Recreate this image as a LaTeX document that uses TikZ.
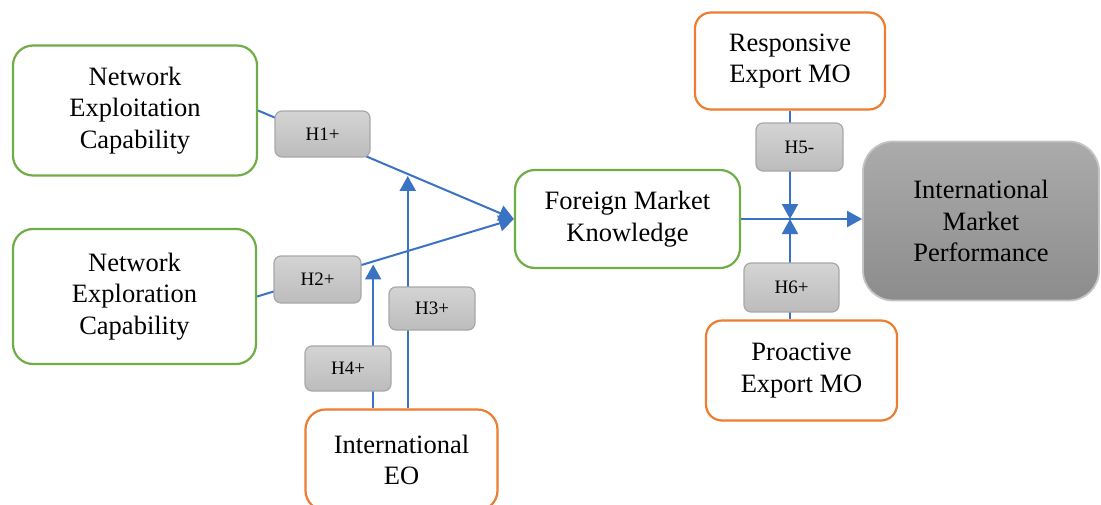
\documentclass[tikz,border=0pt]{standalone}
\usepackage{fontspec}
\setmainfont{Liberation Serif}
\usetikzlibrary{arrows.meta,calc}
\definecolor{grn}{HTML}{70AD47}
\definecolor{org}{HTML}{ED7D31}
\definecolor{lnk}{HTML}{3A72C4}
\definecolor{hlite}{HTML}{D4D4D4}
\definecolor{hdark}{HTML}{BCBCBC}
\definecolor{hedge}{HTML}{A8A8A8}
\definecolor{plite}{HTML}{ABABAB}
\definecolor{pdark}{HTML}{8C8C8C}
\definecolor{pedge}{HTML}{C4C4C4}
\begin{document}
\begin{tikzpicture}[x=1pt,y=-1pt,
  construct/.style={draw,line width=2.2pt,rounded corners=20pt,align=center,
    font=\fontsize{26.5}{31.5}\selectfont,inner sep=0pt},
  capab/.style={construct,draw=grn},
  orient/.style={construct,draw=org},
  outcome/.style={construct,draw=pedge,line width=1.8pt,rounded corners=30pt,
    top color=plite,bottom color=pdark},
  hyp/.style={draw=hedge,line width=1.2pt,rounded corners=7pt,top color=hlite,
    bottom color=hdark,inner sep=0pt,font=\fontsize{19}{22}\selectfont},
  link/.style={draw=lnk,line width=2pt},
  linkarr/.style={link,-{Triangle[length=15pt,width=16pt]}}]
\useasboundingbox (0,0) rectangle (1101,504);
\clip (0,0) rectangle (1101,504);

% constructs
\node[capab,minimum width=244pt,minimum height=130pt] (nec) at (135,110.5)
  {Network\\Exploitation\\Capability};
\node[capab,minimum width=243pt,minimum height=135pt] (nexp) at (134.5,296.5)
  {Network\\Exploration\\Capability};
\node[capab,minimum width=225pt,minimum height=98pt] (fmk) at (627.5,219)
  {Foreign Market\\Knowledge};
\node[orient,rounded corners=16pt,minimum width=190pt,minimum height=97pt] (rmo) at (790,61)
  {Responsive\\Export MO};
\node[orient,rounded corners=16pt,minimum width=191pt,minimum height=100pt] (pmo) at (801.5,370.5)
  {Proactive\\Export MO};
\node[orient,minimum width=192pt,minimum height=101pt] (eo) at (401.5,460)
  {International\\EO};
\node[outcome,minimum width=236pt,minimum height=159pt] (imp) at (981,221)
  {International\\Market\\Performance};

% connectors
\coordinate (h3tip) at ($(nec.east)!0.585!(fmk.west)$);
\coordinate (h4tip) at ($(nexp.east)!0.452!(fmk.west)$);
\coordinate (hub) at (rmo.south |- fmk.east);

\draw[linkarr] (nec.east) -- (fmk.west);
\draw[linkarr] (nexp.east) -- (fmk.west);
\draw[linkarr,shorten >=2pt] (eo.north -| h3tip) -- (h3tip);
\draw[linkarr,shorten >=3pt] (eo.north -| h4tip) -- (h4tip);
\draw[linkarr] (fmk.east) -- (fmk.east -| imp.west);
\draw[linkarr] (rmo.south) -- (hub);
\draw[linkarr] (pmo.north -| hub) -- (hub);

% hypothesis labels
\node[hyp,minimum width=95pt,minimum height=46pt] (h1) at (322.5,134) {H1+};
\node[hyp,minimum width=87pt,minimum height=47pt] (h2) at (317.5,279.5) {H2+};
\node[hyp,minimum width=86pt,minimum height=43pt] (h3) at (432,308.5) {H3+};
\node[hyp,minimum width=86pt,minimum height=45pt] (h4) at (348,368.5) {H4+};
\node[hyp,minimum width=87pt,minimum height=48pt] (h5) at (799.5,147) {H5-};
\node[hyp,minimum width=95pt,minimum height=49pt] (h6) at (791.5,287.5) {H6+};
\end{tikzpicture}
\end{document}
